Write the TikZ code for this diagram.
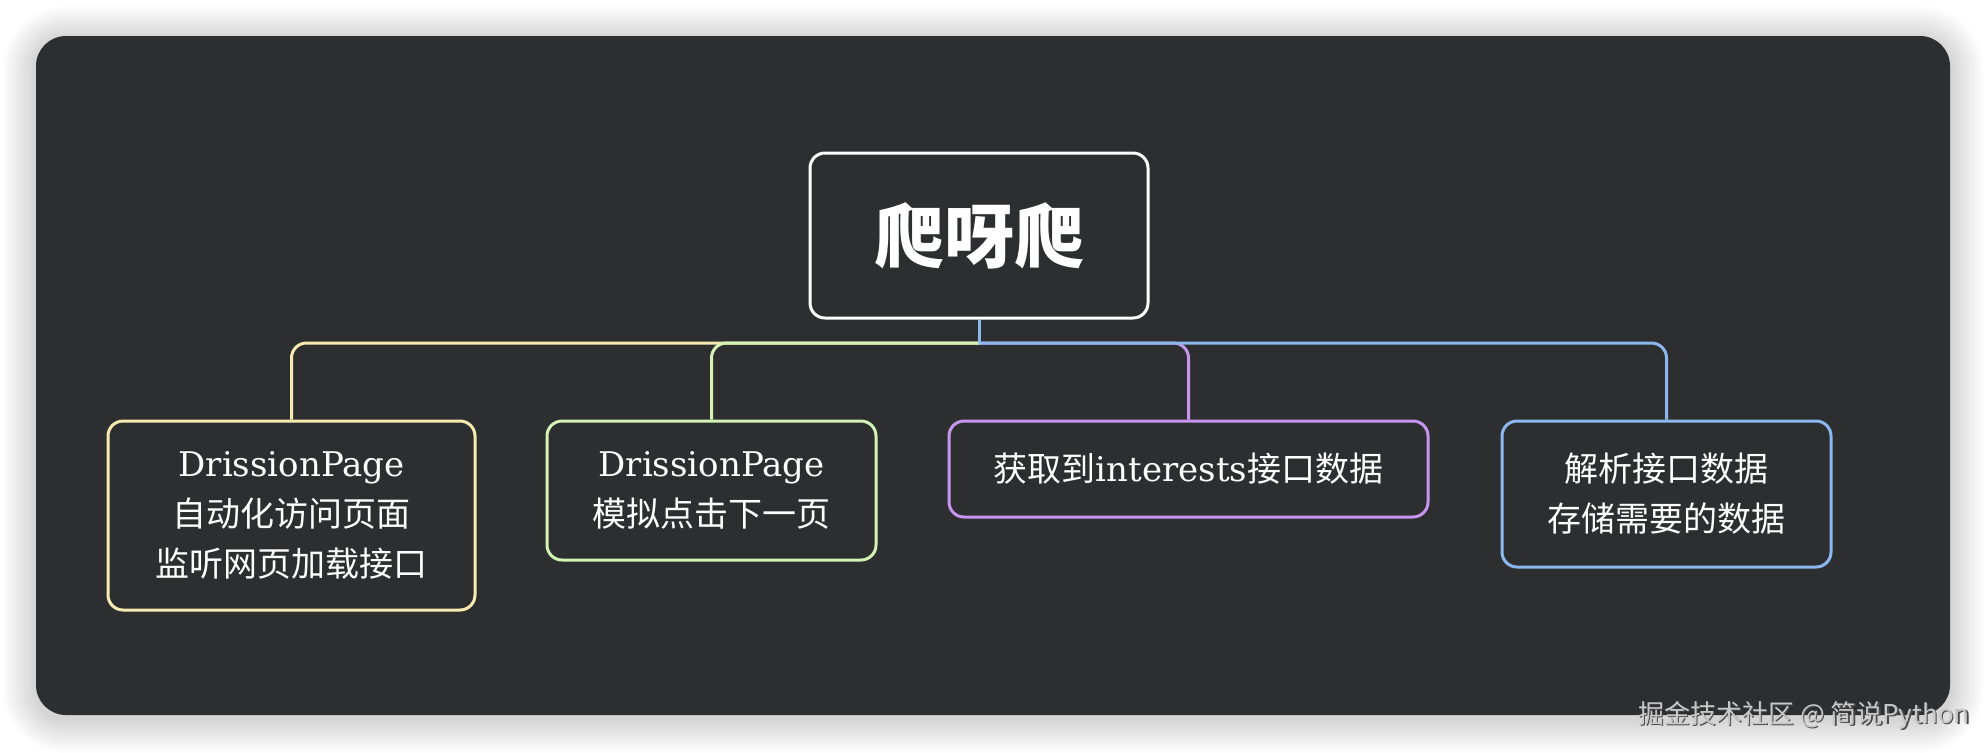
\documentclass[tikz,border=0pt]{standalone}
\usepackage{fontspec}
\setmainfont{DejaVu Serif}
\newfontfamily\cjk{Noto Sans CJK SC}
\usetikzlibrary{positioning}
\definecolor{panel}{RGB}{45,46,48}
\definecolor{cyel}{RGB}{247,235,176}
\definecolor{cgrn}{RGB}{211,244,180}
\definecolor{cpur}{RGB}{198,150,238}
\definecolor{cblu}{RGB}{140,184,240}
\definecolor{wmk}{RGB}{200,200,200}
\tikzset{
  box/.style={draw, line width=1.5pt, rounded corners=7.5pt, fill=panel, text=white,
    align=center, inner sep=0pt, font={\fontsize{17}{25}\selectfont}},
  link/.style={line width=1.5pt, rounded corners=7.5pt},
}
\begin{document}
\begin{tikzpicture}[x=0.5pt,y=-0.5pt]
\useasboundingbox (0,0) rectangle (1988,752);
\fill[white] (0,0) rectangle (1988,752);
% soft shadow
\foreach \i in {1,...,14}{
  \fill[black,opacity=0.012,rounded corners={15pt+\i*1.2pt}]
    ({36-\i*2.4},{40-\i*2.4}) rectangle ({1950+\i*2.4},{719+\i*2.4});
}
\fill[panel, rounded corners=15pt] (36,36) rectangle (1950,715);

\node[box, draw=white, minimum width=169pt, minimum height=82.5pt] (root) at (979,235.5)
  {\cjk\bfseries\fontsize{35}{40}\selectfont 爬呀爬};
\node[box, draw=cyel, minimum width=183.5pt, minimum height=94.5pt] (a) at (291.5,515.5)
  {DrissionPage\\{\cjk 自动化访问页面}\\{\cjk 监听网页加载接口}};
\node[box, draw=cgrn, minimum width=164.5pt, minimum height=69.5pt] (b) at (711.5,490.5)
  {DrissionPage\\{\cjk 模拟点击下一页}};
\node[box, draw=cpur, minimum width=239.5pt, minimum height=48pt] (c) at (1188.5,469)
  {{\cjk 获取到}interests{\cjk 接口数据}};
\node[box, draw=cblu, minimum width=164.5pt, minimum height=73pt] (d) at (1666.5,494)
  {{\cjk 解析接口数据}\\{\cjk 存储需要的数据}};

\coordinate (jn) at (979,343);
\draw[link, cyel] (jn) -| (a.north);
\draw[link, cpur] (jn) -| (c.north);
\draw[link, cgrn] (jn) -| (b.north);
\draw[link, cgrn] (root.south) -- (jn);
\draw[link, cblu] (jn) -| (d.north);
\draw[link, cblu] (root.south) -- (jn);

\node[font={\cjk\fontsize{13}{15}\selectfont}, text=black!70] (wm0) at (1805.5,716.5) {掘金技术社区 @ 简说Python};
\node[font={\cjk\fontsize{13}{15}\selectfont}, text=wmk] (wm) at (1804,715) {掘金技术社区 @ 简说Python};
\end{tikzpicture}
\end{document}
